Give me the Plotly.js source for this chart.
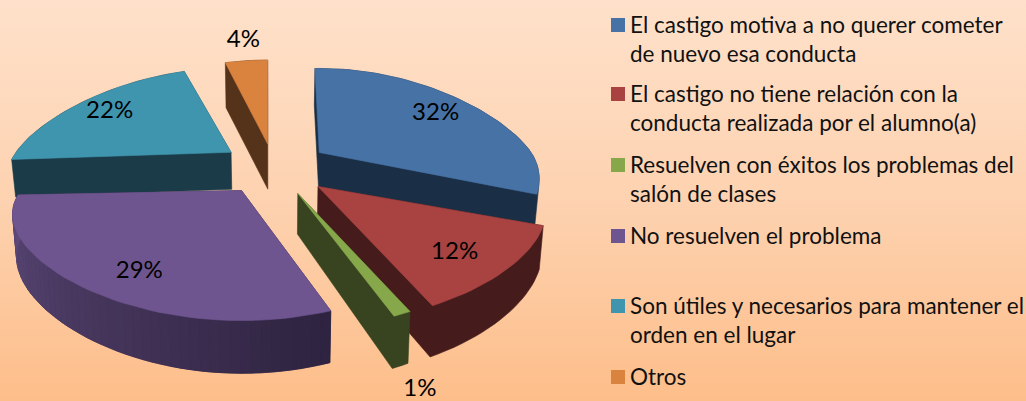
<!DOCTYPE html>
<html>
<head>
<meta charset="utf-8">
<script src="https://cdn.plot.ly/plotly-3.0.1.min.js"></script>
<style>
html,body{margin:0;padding:0;width:1026px;height:401px;overflow:hidden;background:linear-gradient(180deg,#fee1ca 0%,#fdd2b0 50%,#fdbe8a 100%);}
#chart{width:1026px;height:401px;}
</style>
</head>
<body>
<div id="chart"></div>
<script>
// ---- data ----
const categories = [
  "El castigo motiva a no querer cometer<br>de nuevo esa conducta",
  "El castigo no tiene relación con la<br>conducta realizada por el alumno(a)",
  "Resuelven con éxitos los problemas del<br>salón de clases",
  "No resuelven el problema",
  "Son útiles y necesarios para mantener el<br>orden en el lugar",
  "Otros"
];
const values = [32, 12, 1, 29, 22, 4];
// ---- style ----
const topColors  = ["#4672a6", "#a84341", "#86a84b", "#6f5590", "#4095ae", "#d9833e"];
const wallColors = ["#1a2f45", "#451b1b", "#38431f", "#2e2340", "#1a3b47", "#55331a"];
const pull       = [0.25, 0.25, 0.25, 0.25, 0.25, 0.235];
const spread     = [0.985, 1.02, 1, 1.025, 1, 1];
const nearDepth  = [1.12, 1.05, 1.04, 1, 1, 1];
const twist      = [0, 0, 0, 2, 0, 1.5];
const extraDepth = [0, 0, 0, 0, 0, 8];
const labelReach = [[0.75,0.83],[0.73,0.857],[1.17,1.70],[0.68,0.82],[0.79,0.85],[0.95,1.24]];
const drawOrder  = [5, 4, 0, 3, 1, 2];
const legendRows = [25, 94, 165, 236, 306, 377];
const FONT = "Lato, Carlito, 'Open Sans', sans-serif";

// ---- 3D pie projection ----
const CX = 275, CY = 166.3, START = -1.5;
const rad = d => d * Math.PI / 180;
function apexOf(mid, e) {
  const X = e * Math.sin(rad(mid)), Y = e * Math.cos(rad(mid)), s = 1 / (1 + 0.424 * Y);
  return {x: CX + 226 * X * s, y: CY - 105 * Y * s};
}
function rim(a, t, fx, fy) {
  const c = Math.cos(rad(t)), sn = Math.sin(rad(t));
  const dx = 215 * sn / (1 + 0.27 * c);
  const dy = c >= 0 ? 84 * c : 78 * c / (1 + 0.40 * c);
  return {x: a.x + dx * fx, y: a.y - dy * fy};
}
function lower(p, extra) {
  const h = Math.max(37, 37 + 0.095 * (p.y - 155)) + extra;
  return {x: p.x - (p.x - CX) * 0.015, y: p.y + h};
}
function hull(pts) {
  const s = pts.slice().sort((a, b) => a.x - b.x || a.y - b.y);
  const cross = (o, a, b) => (a.x - o.x) * (b.y - o.y) - (a.y - o.y) * (b.x - o.x);
  const half = list => {
    const r = [];
    for (const p of list) {
      while (r.length > 1 && cross(r[r.length - 2], r[r.length - 1], p) <= 0) r.pop();
      r.push(p);
    }
    r.pop();
    return r;
  };
  return half(s).concat(half(s.slice().reverse()));
}
function poly(pts, color) {
  const closed = pts.concat([pts[0]]);
  return {
    type: "scatter", mode: "lines", x: closed.map(p => p.x), y: closed.map(p => p.y),
    fill: "toself", fillcolor: color, line: {color: color, width: 0.6},
    hoverinfo: "skip", showlegend: false
  };
}
function mix(a, b, f) {
  const pa = [1,3,5].map(i => parseInt(a.substr(i,2),16)), pb = [1,3,5].map(i => parseInt(b.substr(i,2),16));
  return "rgb(" + pa.map((v,i) => Math.round(v + (pb[i]-v)*f)).join(",") + ")";
}

const total = values.reduce((a, b) => a + b, 0);
let cursor = START;
const slices = values.map((v, i) => {
  const from = cursor, to = cursor + v / total * 360;
  cursor = to;
  const mid = (from + to) / 2, apex = apexOf(mid, pull[i]);
  const arc = [];
  const n = Math.max(3, Math.ceil((to - from) / 2));
  for (let k = 0; k <= n; k++) {
    const t = from + twist[i] + (to - from) * k / n;
    arc.push(rim(apex, t, spread[i], Math.cos(rad(t)) < 0 ? nearDepth[i] : 1));
  }
  return {i, from, to, mid, apex, arc};
});

const traces = [];
drawOrder.forEach(i => {
  const s = slices[i], extra = extraDepth[i];
  const top = [s.apex].concat(s.arc);
  const low = top.map(p => lower(p, extra));
  traces.push(poly(hull(top.concat(low)), wallColors[i]));
  if (i === 3) { // shaded rim of the large front slice
    for (let k = 0; k < s.arc.length - 1; k++) {
      const f = k / (s.arc.length - 2);
      traces.push(poly([s.arc[k], s.arc[k+1], lower(s.arc[k+1], extra), lower(s.arc[k], extra)],
                       mix("#2e2340", "#614c7d", f)));
    }
  }
  traces.push(poly(top, topColors[i]));
});

// value labels
const labelPts = slices.map(s => rim(s.apex, s.mid, labelReach[s.i][0], labelReach[s.i][1]));
traces.push({
  type: "scatter", mode: "text",
  x: labelPts.map(p => p.x), y: labelPts.map(p => p.y),
  text: values.map(v => v + "%"), textposition: "middle center",
  textfont: {family: FONT, size: 24, color: "#000"},
  hoverinfo: "skip", showlegend: false
});

// legend swatches
traces.push({
  type: "scatter", mode: "markers",
  x: values.map(() => 618), y: legendRows,
  marker: {symbol: "square", size: 14, color: topColors, line: {width: 0}},
  hoverinfo: "skip", showlegend: false
});

const annotations = categories.map((c, i) => ({
  text: c, xref: "x", yref: "y", x: 629, y: legendRows[i] - 15,
  xanchor: "left", yanchor: "top", align: "left", showarrow: false,
  borderpad: 0, font: {family: FONT, size: 22.5, color: "#111"}
}));

const layout = {
  width: 1026, height: 401,
  margin: {l: 0, r: 0, t: 0, b: 0},
  paper_bgcolor: "rgba(0,0,0,0)", plot_bgcolor: "rgba(0,0,0,0)",
  showlegend: false, dragmode: false,
  xaxis: {range: [0, 1026], visible: false, fixedrange: true},
  yaxis: {range: [401, 0], visible: false, fixedrange: true},
  annotations: annotations
};
Plotly.newPlot("chart", traces, layout, {displayModeBar: false, staticPlot: true});
</script>
</body>
</html>
